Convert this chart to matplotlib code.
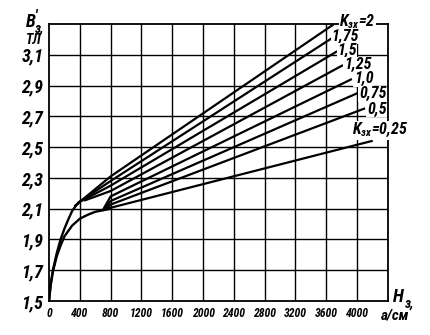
import numpy as np
import matplotlib
matplotlib.use("Agg")
import matplotlib.pyplot as plt

plt.rcParams['font.family'] = ['Roboto Condensed', 'DejaVu Sans']
plt.rcParams['font.style'] = 'italic'
plt.rcParams['font.weight'] = 'bold'
plt.rcParams['mathtext.fontset'] = 'custom'
plt.rcParams['mathtext.it'] = 'Roboto Condensed:italic:bold'
plt.rcParams['mathtext.rm'] = 'Roboto Condensed:italic:bold'

# base magnetisation curves
upper_h = [0, 20, 50, 100, 150, 200, 250, 300, 350, 400]
upper_b = [1.5, 1.6, 1.7, 1.81, 1.9, 1.97, 2.03, 2.085, 2.12, 2.145]
lower_h = [0, 20, 50, 100, 150, 200, 300, 400, 500, 600, 700, 800]
lower_b = [1.5, 1.6, 1.69, 1.79, 1.86, 1.92, 1.99, 2.035, 2.06, 2.08, 2.09, 2.10]

# K_zx lines: start point, value at H=800, end point
k_labels = ['2', '1,75', '1,5', '1,25', '1,0', '0,75', '0,5', '0,25']
start_h = [340, 380, 420, 470, 700, 720, 740, 760]
start_b = [2.12, 2.14, 2.15, 2.155, 2.092, 2.095, 2.098, 2.10]
b_800 = [2.31, 2.28, 2.25, 2.215, 2.18, 2.15, 2.127, 2.106]
end_h = [3700, 3665, 3730, 3805, 3920, 4000, 4090, 4190]
end_b = [3.30, 3.206, 3.12, 3.03, 2.94, 2.85, 2.75, 2.54]

# label anchors (left edge, centre)
lab_h = [3766, 3663, 3740, 3830, 3960, 4024, 4128, 3930]
lab_b = [3.317, 3.222, 3.127, 3.036, 2.944, 2.846, 2.748, 2.611]

xticks = np.arange(0, 4001, 400)
yticks = [1.5, 1.7, 1.9, 2.1, 2.3, 2.5, 2.7, 2.9, 3.1]

W, H = 430, 335
fig = plt.figure(figsize=(4.3, 3.35), dpi=100)
ax = fig.add_axes([0.114, 0.1015, 0.788, 0.8265])
ax.set_xlim(0, 4400)
ax.set_ylim(1.5, 3.3)

for x in np.arange(400, 4400, 400):
    ax.axvline(x, color='black', lw=1.0, zorder=1)
for y in np.arange(1.7, 3.3, 0.2):
    ax.axhline(y, color='black', lw=1.0, zorder=1)

ax.plot(upper_h, upper_b, color='black', lw=1.7, zorder=3)
ax.plot(lower_h, lower_b, color='black', lw=1.7, zorder=3)

for i in range(len(k_labels)):
    ax.plot([start_h[i], 800, end_h[i]], [start_b[i], b_800[i], end_b[i]],
            color='black', lw=1.6, zorder=3)
    if i == 0 or i == len(k_labels) - 1:
        txt = 'K$_{зх}$=' + k_labels[i]
    else:
        txt = k_labels[i]
    ax.text(lab_h[i], lab_b[i], txt, fontsize=11.5, ha='left', va='center',
            zorder=5, clip_on=False,
            bbox=dict(facecolor='white', edgecolor='none', pad=0.3))

for s in ax.spines.values():
    s.set_linewidth(1.3)

ax.set_xticks(xticks)
ax.set_xticklabels([str(v) for v in xticks], fontsize=8.5)
ax.set_yticks(yticks)
ax.set_yticklabels([('%.1f' % v).replace('.', ',') for v in yticks], fontsize=13)
ax.tick_params(length=0, pad=4)

# axis captions placed by pixel position
def ftext(px, py, s, size, **kw):
    fig.text(px / W, 1 - py / H, s, fontsize=size, ha='left', va='center', **kw)

ftext(26, 22, "B", 13)
ftext(34, 16, "'", 11)
ftext(35, 29, "з,", 10)
ftext(26, 40, "ТЛ", 10)
ftext(393, 297, "H", 13)
ftext(405, 304, "з,", 10)
ftext(381, 316, "а/см", 11)

fig.savefig("out.png", dpi=100)
